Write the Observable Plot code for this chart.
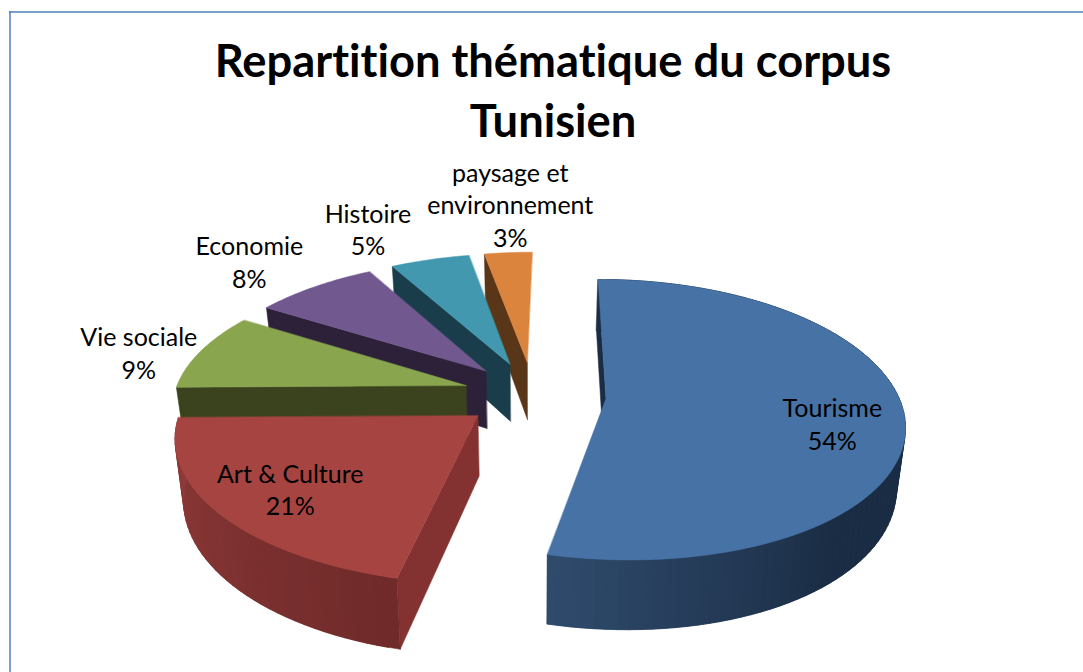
<!DOCTYPE html>
<html>
<head>
<meta charset="utf-8">
<script src="https://cdn.jsdelivr.net/npm/d3@7"></script>
<script src="https://cdn.jsdelivr.net/npm/@observablehq/plot@0.6"></script>
<style>html,body{margin:0;padding:0;background:#fff}svg{display:block;font-variant-ligatures:none}</style>
</head>
<body>
<div id="chart"></div>
<script>
// Data
const categories = ["Tourisme", "Art & Culture", "Vie sociale", "Economie", "Histoire", "paysage et\nenvironnement"];
const shares = [53.8, 21.0, 9.1, 7.9, 5.1, 3.1];
const titleLines = ["Repartition thématique du corpus", "Tunisien"];

// Styles
const topColors = ["#4672A6", "#A64441", "#89A54E", "#71588F", "#4198AF", "#DB843D"];
const faceColors = ["#1B2D45", "#843231", "#3A431D", "#2C2138", "#1A3D4B", "#5A3618"];
const rimColors = [["#1B2D45", "#2F4B6C"], ["#702A2A", "#8F3B39"], ["#3A431D", "#3A431D"], ["#2C2138", "#2C2138"], ["#1A3D4B", "#1A3D4B"], ["#5A3618", "#5A3618"]];
const labelShift = [[-72, 8], [71, -25], [-62, 1], [-65, -26], [-62, -31], [2, -49]];

// Perspective of the pie plane (unit radius)
const cam = {a: 534, b: 292, c: 77, q: 5.5, g: 0.1506, vy: -508, h: 902, depth: 59, explode: 0.245, vx: 530, lean: 0.024};
function project(X, Y, down) {
  const d = 1 + cam.g * Y;
  let px = (cam.a + cam.b * X + cam.c * Y + cam.q * Y * Y) / d;
  const py = cam.vy + (cam.h + (down ? cam.depth : 0)) / d;
  if (down) px += (cam.vx - px) * cam.lean;
  return [px, py];
}

const total = d3.sum(shares);
let acc = 0;
const slices = shares.map((v, i) => {
  const t0 = acc / total * 2 * Math.PI; acc += v;
  const t1 = acc / total * 2 * Math.PI;
  const mid = (t0 + t1) / 2;
  return {i, v, t0, t1, mid, ox: cam.explode * Math.sin(mid), oy: cam.explode * Math.cos(mid)};
});

function at(s, t, r, down) {
  return project(s.ox + r * Math.sin(t), s.oy + r * Math.cos(t), down);
}

const polys = [];
function addPoly(face, color, pts) {
  pts.forEach(([x, y]) => polys.push({x, y, face, color}));
}
// painter's order: farthest slice first, Tourisme last
[5, 4, 3, 2, 1, 0].forEach(i => {
  const s = slices[i];
  // the cut face that looks towards the viewer
  addPoly(`${i}-cut`, faceColors[i], [at(s, s.t0, 0, false), at(s, s.t0, 1, false), at(s, s.t0, 1, true), at(s, s.t0, 0, true)]);
  const n = Math.ceil((s.t1 - s.t0) / (Math.PI / 90));
  // outer wall (front slices only), in thin overlapping strips shaded along the arc
  if (Math.cos(s.mid) < 0) {
    const shade = d3.interpolateRgb(rimColors[i][0], rimColors[i][1]);
    for (let k = 0; k < n; k++) {
      const a = s.t0 + (s.t1 - s.t0) * k / n, b = s.t0 + (s.t1 - s.t0) * Math.min(n, k + 2) / n;
      let u;
      if (i === 0) u = Math.max(0, ((a * 180 / Math.PI) - 140) / 53);
      else u = (a - s.t0) / (s.t1 - s.t0);
      addPoly(`${i}-wall${k}`, shade(u), [at(s, a, 1, false), at(s, b, 1, false), at(s, b, 1, true), at(s, a, 1, true)]);
    }
  }
  // top surface
  const top = [at(s, 0, 0, false)];
  for (let k = 0; k <= 2 * n; k++) top.push(at(s, s.t0 + (s.t1 - s.t0) * k / (2 * n), 1, false));
  addPoly(`${i}-top`, topColors[i], top);
});

const labels = slices.map(s => {
  const [x, y] = at(s, s.mid, 1, false);
  return {
    x: x + labelShift[s.i][0], y: y + labelShift[s.i][1],
    text: `${categories[s.i]}\n${Math.round(s.v)}%`
  };
});

const chart = Plot.plot({
  width: 1083, height: 672, margin: 0,
  x: {domain: [0, 1083], range: [0, 1083], axis: null},
  y: {domain: [0, 672], range: [0, 672], axis: null},
  color: {type: "identity"},
  style: {fontFamily: "Lato", background: "#fff"},
  marks: [
    Plot.ruleX([9.5], {y1: 11, y2: 672, stroke: "#5b88c2", strokeWidth: 1.6}),
    Plot.ruleY([11.5], {x1: 9, x2: 1083, stroke: "#4f7fbd", strokeWidth: 1.4}),
    Plot.line(polys, {x: "x", y: "y", z: "face", fill: "color", stroke: "color", strokeWidth: 0.5, curve: "linear-closed"}),
    Plot.text(titleLines, {x: () => 552.5, y: (d, i) => 62 + i * 60, text: d => d, fontSize: 45.3, fontWeight: 700, fill: "#000"}),
    Plot.text(labels, {x: "x", y: "y", text: "text", fontSize: 25, lineHeight: 1.3, fill: "#000"})
  ]
});
document.getElementById("chart").append(chart);
</script>
</body>
</html>
